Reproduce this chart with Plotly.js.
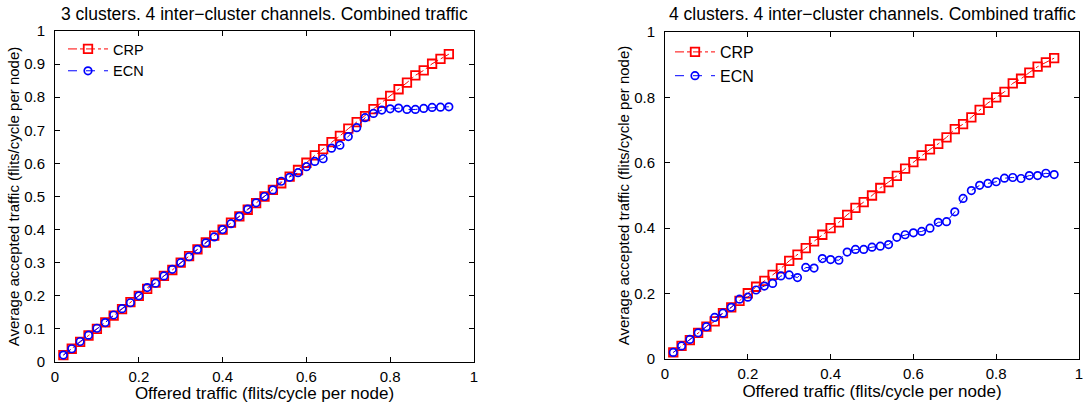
<!DOCTYPE html>
<html>
<head>
<meta charset="utf-8">
<script src="https://cdn.plot.ly/plotly-3.0.1.min.js"></script>
<style>html,body{margin:0;padding:0;background:#fff;}#chart{width:1084px;height:403px;}</style>
</head>
<body>
<div id="chart"></div>
<script>
// Offered traffic (flits/cycle per node)
var offered = [0.02,0.04,0.06,0.08,0.10,0.12,0.14,0.16,0.18,0.20,0.22,0.24,0.26,0.28,0.30,0.32,0.34,0.36,0.38,0.40,0.42,0.44,0.46,0.48,0.50,0.52,0.54,0.56,0.58,0.60,0.62,0.64,0.66,0.68,0.70,0.72,0.74,0.76,0.78,0.80,0.82,0.84,0.86,0.88,0.90,0.92,0.94];

// Left: 3 clusters
var crp3 = [0.021,0.040,0.061,0.080,0.100,0.120,0.140,0.160,0.181,0.200,0.221,0.240,0.260,0.278,0.300,0.320,0.340,0.361,0.382,0.400,0.421,0.440,0.460,0.480,0.500,0.520,0.540,0.560,0.580,0.602,0.624,0.643,0.664,0.683,0.705,0.725,0.743,0.764,0.783,0.804,0.824,0.844,0.866,0.881,0.901,0.916,0.930];
var ecn3 = [0.021,0.040,0.062,0.081,0.102,0.119,0.142,0.161,0.179,0.200,0.225,0.238,0.260,0.280,0.300,0.318,0.340,0.360,0.378,0.400,0.418,0.440,0.462,0.481,0.500,0.520,0.546,0.558,0.572,0.590,0.606,0.614,0.646,0.655,0.681,0.708,0.738,0.751,0.761,0.765,0.767,0.763,0.763,0.766,0.769,0.770,0.771];

// Right: 4 clusters
var crp4 = [0.020,0.040,0.058,0.080,0.099,0.115,0.140,0.158,0.178,0.201,0.221,0.239,0.257,0.277,0.300,0.319,0.339,0.360,0.380,0.400,0.418,0.441,0.462,0.480,0.500,0.523,0.541,0.560,0.582,0.602,0.623,0.641,0.658,0.678,0.703,0.718,0.739,0.762,0.783,0.800,0.817,0.843,0.857,0.876,0.894,0.907,0.920];
var ecn4 = [0.020,0.040,0.060,0.080,0.099,0.127,0.140,0.158,0.183,0.189,0.211,0.223,0.231,0.254,0.257,0.249,0.280,0.278,0.307,0.304,0.302,0.327,0.335,0.335,0.342,0.345,0.350,0.372,0.380,0.386,0.390,0.400,0.418,0.420,0.450,0.491,0.515,0.531,0.537,0.542,0.553,0.555,0.552,0.561,0.561,0.568,0.564];

var seriesNames = ["CRP","ECN"];
var titles = ["3 clusters. 4 inter\u2212cluster channels. Combined traffic","4 clusters. 4 inter\u2212cluster channels. Combined traffic"];
var xTitle = "Offered traffic (flits/cycle per node)";
var yTitle = "Average accepted traffic (flits/cycle per node)";
var xTickVals = [0,0.2,0.4,0.6,0.8,1];
var xTickText = ["0","0.2","0.4","0.6","0.8","1"];
var yTickValsL = [0,0.1,0.2,0.3,0.4,0.5,0.6,0.7,0.8,0.9,1];
var yTickTextL = ["0","0.1","0.2","0.3","0.4","0.5","0.6","0.7","0.8","0.9","1"];
var yTickValsR = [0,0.2,0.4,0.6,0.8,1];
var yTickTextR = ["0","0.2","0.4","0.6","0.8","1"];

var FONT = "Liberation Sans, Arial, Helvetica, sans-serif";
var RED = "#ff0000", BLUE = "#0000ff";

function crpTrace(y, xa, ya, lg){
  return {x: offered, y: y, xaxis: xa, yaxis: ya, legend: lg, name: seriesNames[0], type: "scatter", mode: "lines+markers",
    line: {color: RED, width: 1, dash: "dashdot"},
    marker: {symbol: "square-open", size: 8.5, color: RED, line: {color: RED, width: 1.8}}};
}
function ecnTrace(y, xa, ya, lg){
  return {x: offered, y: y, xaxis: xa, yaxis: ya, legend: lg, name: seriesNames[1], type: "scatter", mode: "lines+markers",
    line: {color: BLUE, width: 1, dash: "dash"},
    marker: {symbol: "circle-open", size: 7.5, color: BLUE, line: {color: BLUE, width: 1.7}}};
}

var data = [
  crpTrace(crp3, "x", "y", "legend"),
  ecnTrace(ecn3, "x", "y", "legend"),
  crpTrace(crp4, "x2", "y2", "legend2"),
  ecnTrace(ecn4, "x2", "y2", "legend2")
];

function xAxis(dom, anchor){
  return {domain: dom, anchor: anchor, range: [0,1], tickvals: xTickVals, ticktext: xTickText,
    ticks: "inside", ticklen: 5, tickwidth: 1, tickcolor: "#000", mirror: "ticks", showline: true, linecolor: "#000", linewidth: 1,
    showgrid: false, zeroline: false, tickfont: {family: FONT, size: 15, color: "#000"}, ticklabelstandoff: 1,
    title: {text: xTitle, font: {family: FONT, size: 17, color: "#000"}, standoff: 0}};
}
function yAxis(dom, anchor, tv, tt){
  return {domain: dom, anchor: anchor, range: [0,1], tickvals: tv, ticktext: tt,
    ticks: "inside", ticklen: 5, tickwidth: 1, tickcolor: "#000", mirror: "ticks", showline: true, linecolor: "#000", linewidth: 1,
    showgrid: false, zeroline: false, tickfont: {family: FONT, size: 15, color: "#000"}, ticklabelstandoff: 6,
    title: {text: yTitle, font: {family: FONT, size: 15, color: "#000"}, standoff: 0}};
}

var layout = {
  width: 1084, height: 403,
  margin: {l: 0, r: 0, t: 0, b: 0},
  paper_bgcolor: "#fff", plot_bgcolor: "#fff",
  showlegend: true,
  xaxis: xAxis([55/1084, 474/1084], "y"),
  yaxis: yAxis([1-362/403, 1-31/403], "x", yTickValsL, yTickTextL),
  xaxis2: xAxis([665/1084, 1079/1084], "y2"),
  yaxis2: yAxis([1-359/403, 1-32/403], "x2", yTickValsR, yTickTextR),
  legend: {x: 63/1084, y: 1-33/403, xanchor: "left", yanchor: "top", bgcolor: "rgba(0,0,0,0)", borderwidth: 0,
    font: {family: FONT, size: 14.5, color: "#000"}, itemwidth: 40, tracegroupgap: 0},
  legend2: {x: 670/1084, y: 1-35/403, xanchor: "left", yanchor: "top", bgcolor: "rgba(0,0,0,0)", borderwidth: 0,
    font: {family: FONT, size: 16, color: "#000"}, itemwidth: 40, tracegroupgap: 0},
  annotations: [
    {text: titles[0], x: (55+474)/2/1084, y: 1-14/403, xref: "paper", yref: "paper", xanchor: "center", yanchor: "middle", showarrow: false,
      font: {family: FONT, size: 17.5, color: "#000"}},
    {text: titles[1], x: (665+1079)/2/1084, y: 1-14/403, xref: "paper", yref: "paper", xanchor: "center", yanchor: "middle", showarrow: false,
      font: {family: FONT, size: 17.5, color: "#000"}}
  ]
};

Plotly.newPlot("chart", data, layout, {displayModeBar: false, staticPlot: true});
</script>
</body>
</html>
